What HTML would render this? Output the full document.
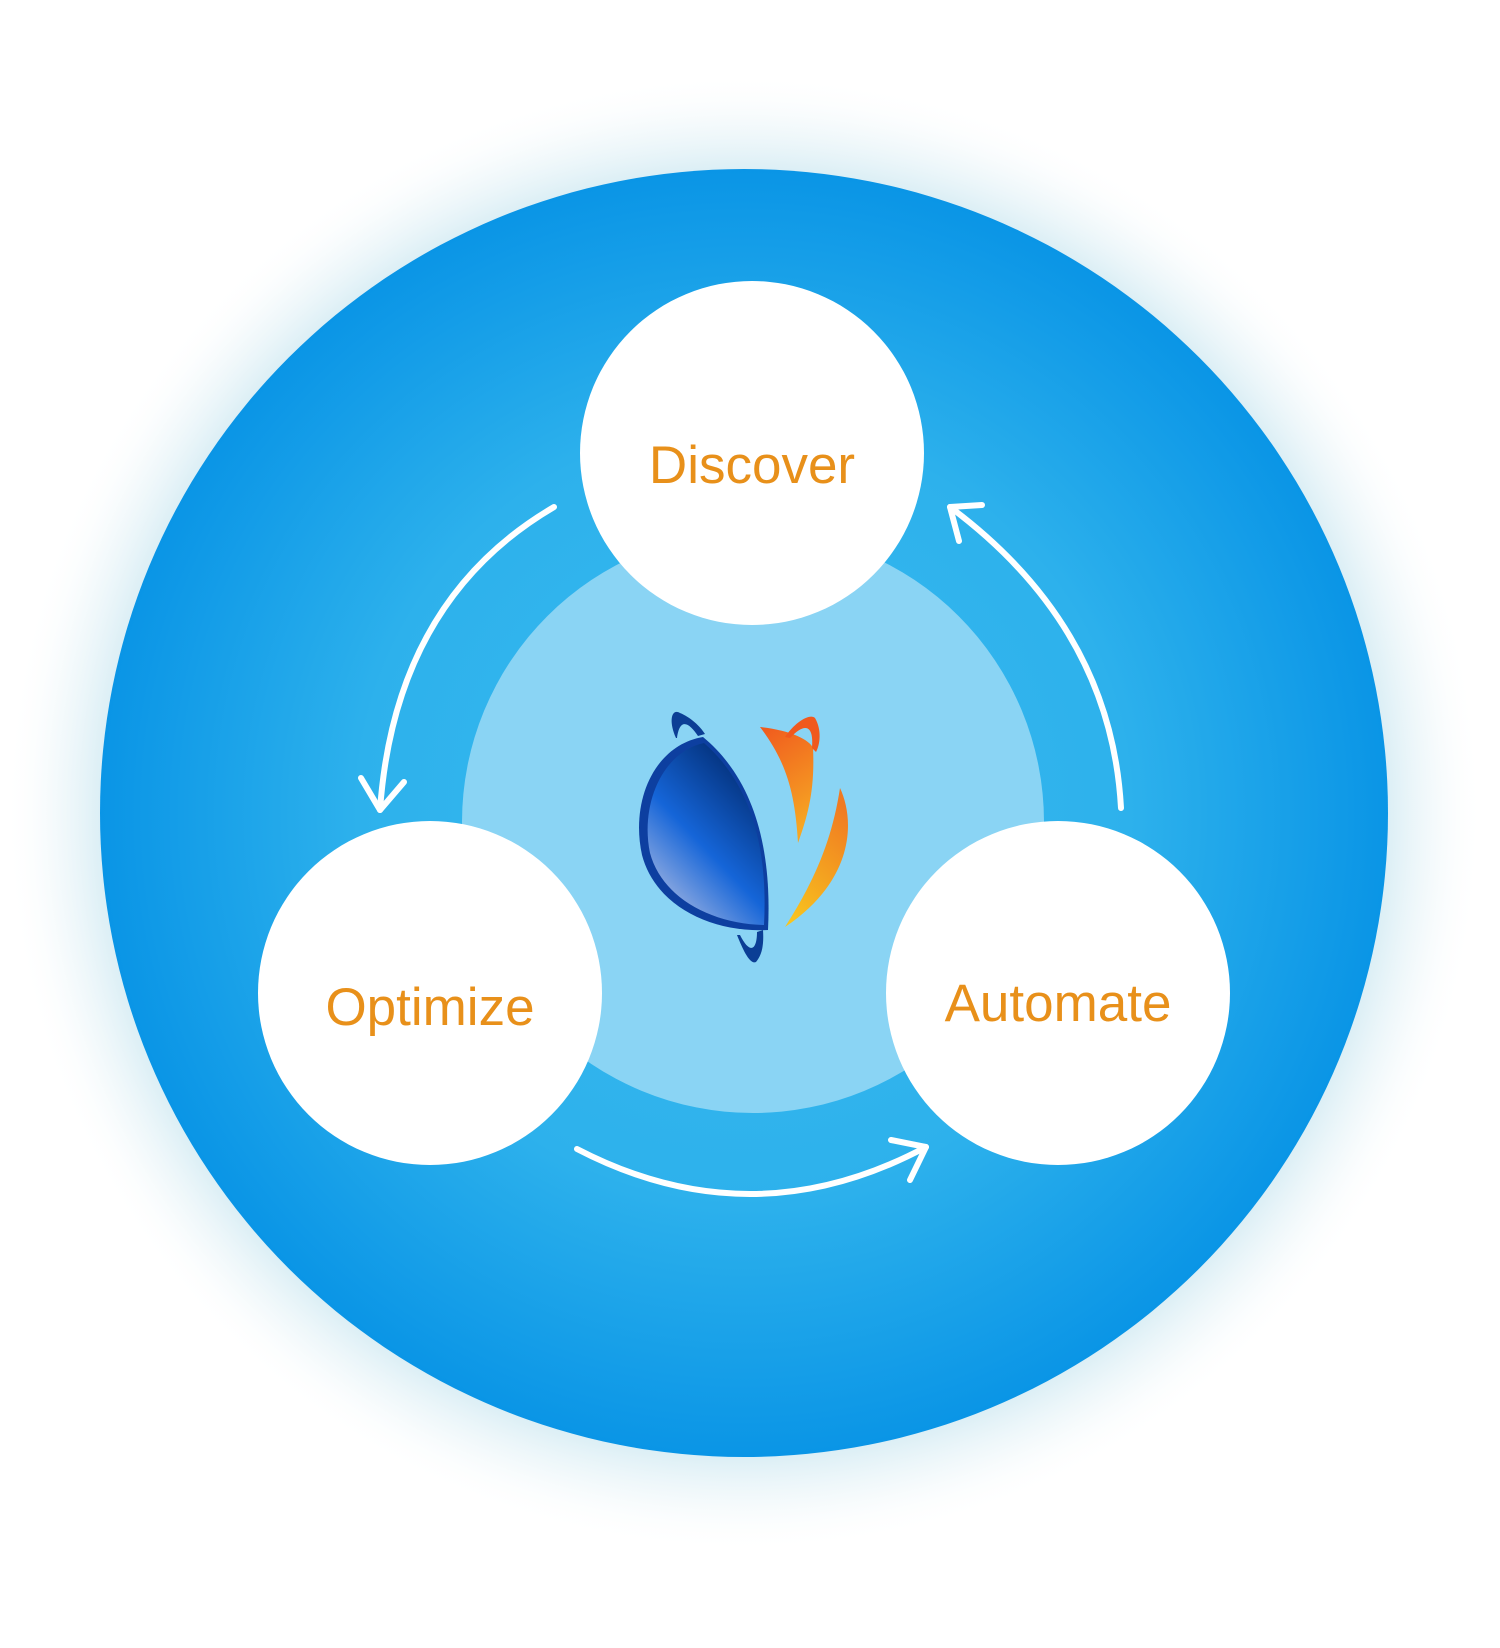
<!DOCTYPE html>
<html><head><meta charset="utf-8"><style>
html,body{margin:0;padding:0;background:#fff;}
body{width:1500px;height:1648px;position:relative;overflow:hidden;}
svg{position:absolute;left:0;top:0;}
</style></head><body>
<svg width="1500" height="1648" viewBox="0 0 1500 1648">
<defs>
<radialGradient id="big" cx="50%" cy="50%" r="50%">
<stop offset="0" stop-color="#3ABBEF"/><stop offset="0.6" stop-color="#2DB1EC"/><stop offset="1" stop-color="#0A95E6"/>
</radialGradient>
<radialGradient id="glow" cx="50%" cy="50%" r="50%">
<stop offset="0.86" stop-color="#CFE9F2" stop-opacity="0.85"/><stop offset="0.93" stop-color="#E8F4F8" stop-opacity="0.5"/><stop offset="1" stop-color="#ffffff" stop-opacity="0"/>
</radialGradient>
<linearGradient id="blue" x1="0.7" y1="0" x2="0.1" y2="0.9">
<stop offset="0" stop-color="#022C72"/><stop offset="0.55" stop-color="#1565D8"/><stop offset="1" stop-color="#A7B8E2"/>
</linearGradient>
<linearGradient id="or" x1="0" y1="0" x2="0.3" y2="1">
<stop offset="0" stop-color="#F0591E"/><stop offset="1" stop-color="#F6A623"/>
</linearGradient>
<linearGradient id="ye" x1="0.6" y1="0" x2="0.2" y2="1">
<stop offset="0" stop-color="#F07A22"/><stop offset="1" stop-color="#F8C41E"/>
</linearGradient>
</defs>
<circle cx="744" cy="813" r="740" fill="url(#glow)"/>
<circle cx="744" cy="813" r="644" fill="url(#big)"/>
<circle cx="753" cy="822" r="291" fill="#8AD4F4"/>
<circle cx="752" cy="453" r="172" fill="#fff"/>
<circle cx="430" cy="993" r="172" fill="#fff"/>
<circle cx="1058" cy="993" r="172" fill="#fff"/>
<g font-family="Liberation Sans, sans-serif" font-size="53" fill="#E8901A" text-anchor="middle">
<text x="752" y="483">Discover</text>
<text x="430" y="1025">Optimize</text>
<text x="1058" y="1021">Automate</text>
</g>
<g fill="none" stroke="#fff" stroke-width="6" stroke-linecap="round" stroke-linejoin="round">
<path d="M554,507 Q395,600 380,810"/>
<path d="M361,778 L380,810 L404,782"/>
<path d="M1121,808 Q1111,627 950,507"/>
<path d="M982,505 L950,507 L959,541"/>
<path d="M577,1149 Q752,1240 926,1147"/>
<path d="M891,1140 L926,1147 L910,1180"/>
</g>
<!-- logo -->
<path d="M676,738 C668,720 672,708 680,713 C690,717 700,726 705,734 L698,736 C690,724 680,716 677,738 Z" fill="#0B3E95"/>
<path d="M703,737 C655,745 630,800 642,855 C655,905 710,933 768,930 C772,850 755,780 703,737 Z" fill="#0D3FA0"/>
<path d="M704,743 C662,752 640,805 650,853 C662,898 712,924 764,925 C768,850 752,785 704,743 Z" fill="url(#blue)"/>
<path d="M737,935 C743,950 750,965 756,962 C762,955 764,945 763,930 L757,932 C757,950 750,955 740,935 Z" fill="#0B3E95"/>
<path d="M760,727 C790,730 810,740 813,748 C815,790 808,815 798,843 C795,790 785,760 760,727 Z" fill="url(#or)"/>
<path d="M785,737 C795,722 810,713 815,718 C822,730 820,745 816,752 L812,748 C814,725 805,722 790,738 Z" fill="#F0591E"/>
<path d="M840,788 C855,820 855,880 785,927 C815,880 832,840 840,788 Z" fill="url(#ye)"/>
</svg>
</body></html>
